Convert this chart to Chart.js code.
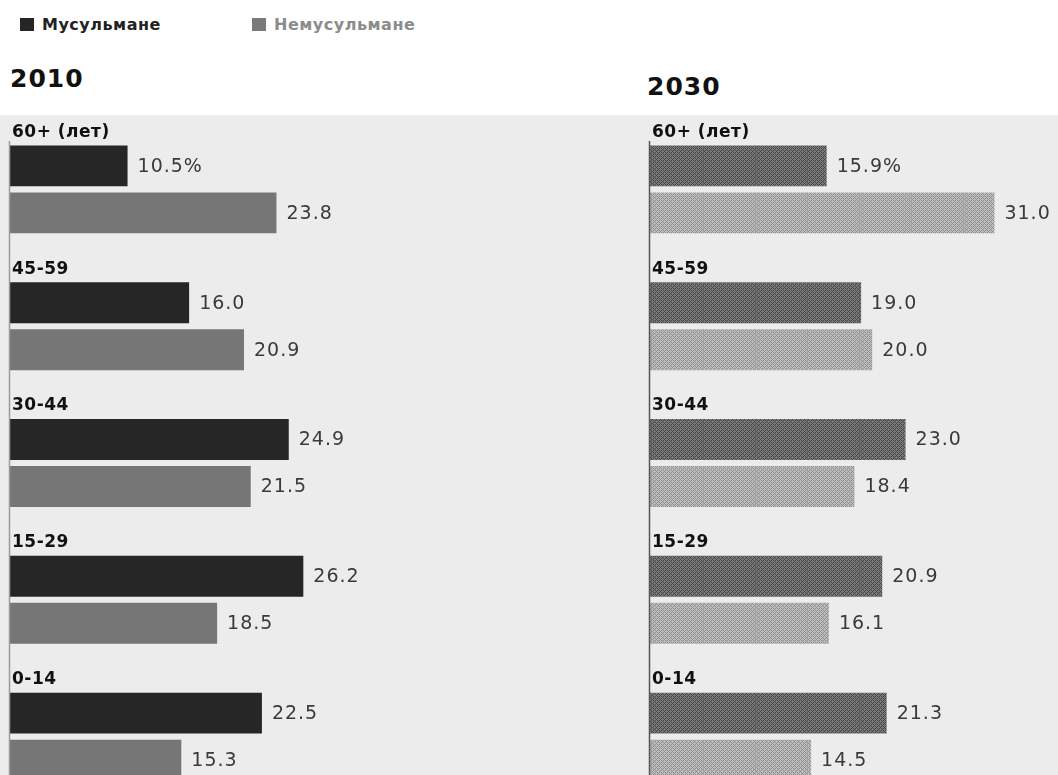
<!DOCTYPE html>
<html>
<head>
<meta charset="utf-8">
<script src="https://cdn.jsdelivr.net/npm/chart.js@4"></script>
<style>
  html, body { margin: 0; padding: 0; width: 1058px; height: 775px; overflow: hidden; background: #fff; font-family: "DejaVu Sans", sans-serif; }
  .band { position: absolute; left: 0; top: 115px; width: 1058px; height: 660px; background: #ececec; }
  .legend { position: absolute; top: 15px; font-size: 16px; font-weight: bold; letter-spacing: 0.5px; }
  .legend span.box { display: inline-block; width: 14px; height: 13px; margin-right: 8px; vertical-align: -1px; }
  .title { position: absolute; font-size: 25px; font-weight: bold; color: #111; letter-spacing: 1px; }
  .wrap { position: absolute; top: 115px; height: 700px; }
</style>
</head>
<body>
<div class="band"></div>
<div class="legend" style="left:20px;color:#222"><span class="box" style="background:#262626"></span>Мусульмане</div>
<div class="legend" style="left:252px;color:#8c8c8c"><span class="box" style="background:#7a7a7a"></span>Немусульмане</div>
<div class="title" style="left:10px;top:64px">2010</div>
<div class="title" style="left:647px;top:72px">2030</div>
<div class="wrap" style="left:0;width:530px"><canvas id="chart2010"></canvas></div>
<div class="wrap" style="left:640px;width:418px"><canvas id="chart2030"></canvas></div>
<script>
// Data
const ageGroups = ['60+ (лет)', '45-59', '30-44', '15-29', '0-14'];
const muslim2010 = [10.5, 16.0, 24.9, 26.2, 22.5];
const nonMuslim2010 = [23.8, 20.9, 21.5, 18.5, 15.3];
const muslim2030 = [15.9, 19.0, 23.0, 20.9, 21.3];
const nonMuslim2030 = [31.0, 20.0, 18.4, 16.1, 14.5];

// crosshatch fill for the 2030 bars
function makeHatch(base, line, grid) {
    const c = document.createElement('canvas');
    c.width = 52;
    c.height = 4;
    const g = c.getContext('2d');
    g.fillStyle = base;
    g.fillRect(0, 0, 52, 4);
    g.fillStyle = line;
    for (let x = 0; x < 52; x++) {
        for (let y = 0; y < 4; y++) {
            if ((x + y) % 4 === 0 || (x - y + 4) % 4 === 0) g.fillRect(x, y, 1, 1);
        }
    }
    g.fillStyle = grid;
    g.fillRect(11, 0, 1, 4);
    return g.createPattern(c, 'repeat');
}

// group labels, value labels and the axis line
const labelPlugin = {
    id: 'labels',
    afterDatasetsDraw(chart) {
        const ctx = chart.ctx;
        const area = chart.chartArea;
        ctx.save();
        ctx.strokeStyle = chart.options.axisColor;
        ctx.lineWidth = 1.5;
        ctx.beginPath();
        ctx.moveTo(area.left - 0.5, area.top + 20);
        ctx.lineTo(area.left - 0.5, area.bottom);
        ctx.stroke();

        const first = chart.getDatasetMeta(0).data;
        ctx.textBaseline = 'middle';
        ctx.letterSpacing = '0.5px';
        ctx.fillStyle = '#111';
        ctx.font = 'bold 17px "DejaVu Sans"';
        first.forEach((bar, i) => {
            ctx.fillText(chart.data.labels[i], area.left + 2, bar.y - bar.height / 2 - 13);
        });

        ctx.letterSpacing = '1px';
        ctx.fillStyle = '#3a3a3a';
        ctx.font = '19px "DejaVu Sans"';
        chart.data.datasets.forEach((ds, d) => {
            chart.getDatasetMeta(d).data.forEach((bar, i) => {
                let txt = ds.data[i].toFixed(1);
                if (i === 0 && d === 0) txt += '%';
                ctx.fillText(txt, bar.x + 10, bar.y + 1);
            });
        });
        ctx.restore();
    }
};

function makeChart(id, muslim, nonMuslim, colors, xMax, pad, axisColor) {
    return new Chart(document.getElementById(id), {
        type: 'bar',
        data: {
            labels: ageGroups,
            datasets: [{
                label: 'Мусульмане',
                data: muslim,
                backgroundColor: colors[0],
                borderWidth: 0
            }, {
                label: 'Немусульмане',
                data: nonMuslim,
                backgroundColor: colors[1],
                borderWidth: 0
            }]
        },
        options: {
            indexAxis: 'y',
            responsive: true,
            maintainAspectRatio: false,
            animation: false,
            axisColor: axisColor,
            layout: { padding: pad },
            categoryPercentage: 0.687,
            barPercentage: 0.87,
            plugins: {
                legend: { display: false },
                tooltip: { enabled: false }
            },
            scales: {
                x: { display: false, min: 0, max: xMax },
                y: { display: false }
            }
        },
        plugins: [labelPlugin]
    });
}

makeChart('chart2010', muslim2010, nonMuslim2010, ['#262626', '#767676'], 46,
    { left: 10, right: 5, top: 6, bottom: 10 }, '#9a9a9a');

makeChart('chart2030', muslim2030, nonMuslim2030,
    [makeHatch('#7a7a7a', '#454545', '#5c5c5c'), makeHatch('#bdbdbd', '#8e8e8e', '#a0a0a0')], 36,
    { left: 10, right: 8, top: 6, bottom: 10 }, '#555');
</script>
</body>
</html>
